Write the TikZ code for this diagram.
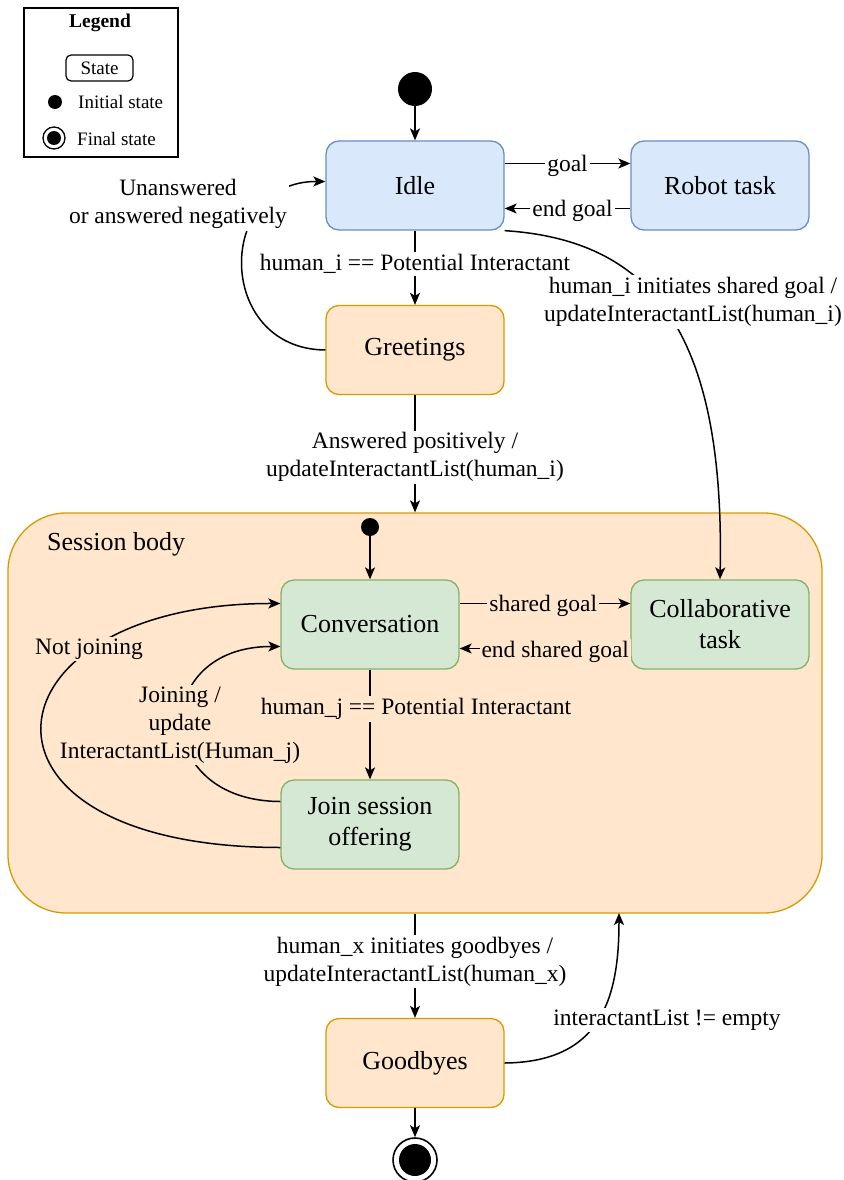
\documentclass[tikz,border=0pt]{standalone}
\usepackage{fontspec}
\setmainfont{Liberation Serif}
\usetikzlibrary{arrows.meta}
\definecolor{bluefill}{HTML}{DAE8FC}
\definecolor{blueline}{HTML}{6C8EBF}
\definecolor{orangefill}{HTML}{FFE6CC}
\definecolor{orangeline}{HTML}{D79B00}
\definecolor{greenfill}{HTML}{D5E8D4}
\definecolor{greenline}{HTML}{82B366}
\begin{document}
\begin{tikzpicture}[x=1pt,y=-1pt]
\tikzstyle{every node}+=[inner sep=0pt]
\tikzstyle{state}=[draw, rounded corners=13pt, line width=1.3pt, minimum width=178pt, minimum height=89pt, align=center, font=\fontsize{26}{31}\selectfont]
\tikzstyle{idlestate}=[state, draw=blueline, fill=bluefill]
\tikzstyle{talkstate}=[state, draw=orangeline, fill=orangefill]
\tikzstyle{sessstate}=[state, draw=greenline, fill=greenfill]
\tikzstyle{edge}=[line width=1.5pt, -{Stealth[length=12pt,width=10pt,inset=3pt]}]
\tikzstyle{lbl}=[align=center, inner sep=2pt, font=\fontsize{23.5}{28}\selectfont]
\tikzstyle{legtext}=[font=\fontsize{19}{23}\selectfont]
\useasboundingbox (0,0) rectangle (843,1180);
\node [draw, line width=1.2pt, minimum width=154pt, minimum height=149pt] (legend) at (101,82.5) {};
\node [font=\bfseries\fontsize{19.5}{23}\selectfont] (legtitle) at (100,23) {Legend};
\node [legtext, draw, rounded corners=5pt, line width=1.2pt, minimum width=67pt, minimum height=26pt] (legstate) at (99.5,68) {State};
\node [circle, fill=black, minimum size=14pt] (leginit) at (55,102) {};
\node [legtext, anchor=west] (leginittxt) at (78,102) {Initial state};
\node [circle, draw, line width=1.3pt, minimum size=22pt] (legfin) at (54,138) {};
\fill (legfin.center) circle (7pt);
\node [legtext, anchor=west] (legfintxt) at (77,139) {Final state};
\node [circle, fill=black, minimum size=34pt] (init) at (415,89) {};
\node [idlestate] (idle) at (415,185.5) {Idle};
\node [idlestate] (robot) at (720,185.5) {Robot task};
\node [talkstate] (greet) at (415,350) {Greetings};
\node [draw=orangeline, fill=orangefill, rounded corners=58pt, line width=1.3pt, minimum width=814pt, minimum height=400pt] (session) at (415,713) {};
\node [anchor=west, font=\fontsize{26}{31}\selectfont] (sesslbl) at (47,544) {Session body};
\node [circle, fill=black, minimum size=18pt] (sinit) at (370,527) {};
\node [sessstate] (conv) at (370,624.5) {Conversation};
\node [sessstate] (collab) at (720,624.5) {Collaborative\\task};
\node [sessstate] (join) at (370,824.5) {Join session\\offering};
\node [talkstate] (bye) at (415,1063) {Goodbyes};
\node [circle, draw, line width=1.6pt, minimum size=44pt, fill=white] (fin) at (415,1160) {};
\fill (fin.center) circle (16pt);
\coordinate (sbot) at (619,913);
\draw [edge] (init) -- (idle);
\draw [edge] ([yshift=22pt]idle.east) -- ([yshift=22pt]robot.west) node [lbl, midway, fill=white, yshift=-2pt] (goal) {goal};
\draw [edge] ([yshift=-23pt]robot.west) -- ([yshift=-23pt]idle.east) node [lbl, pos=0.46, fill=white, yshift=-2pt] (endgoal) {end goal};
\draw [edge] (idle) -- (greet) node [lbl, pos=0.45, fill=white] (potint) {human\_i == Potential Interactant};
\draw [edge] (greet.west) .. controls (215,349) and (215,181) .. ([yshift=4pt]idle.west);
\node [lbl, fill=white] (unans) at (178,204) {Unanswered\\or answered negatively};
\draw [edge] (idle.south east) .. controls (650,240) and (725,330) .. (collab.north);
\node [lbl, fill=white] (hinit) at (693,302) {human\_i initiates shared goal /\\updateInteractantList(human\_i)};
\draw [edge] (greet) -- (session) node [lbl, pos=0.53, fill=white] (answ) {Answered positively /\\updateInteractantList(human\_i)};
\draw [edge] (sinit) -- (conv);
\draw [edge] ([yshift=21pt]conv.east) -- ([yshift=21pt]collab.west) node [lbl, pos=0.49, fill=orangefill, yshift=-2pt] (sgoal) {shared goal};
\draw [edge] ([yshift=-24pt]collab.west) -- ([yshift=-24pt]conv.east) node [lbl, pos=0.44, fill=orangefill, yshift=-3pt] (endsgoal) {end shared goal};
\draw [edge] ([yshift=23pt]join.west) .. controls (150,801) and (150,646) .. ([yshift=-22pt]conv.west);
\node [lbl, fill=orangefill] (joining) at (180,725) {Joining /\\update\\InteractantList(Human\_j)};
\draw [edge] ([yshift=-23pt]join.west) .. controls (-55,847) and (-20,603) .. ([yshift=21pt]conv.west);
\node [lbl, fill=orangefill] (notjoin) at (89,649) {Not joining};
\draw [edge] (conv) -- (join) node [lbl, pos=0.36, xshift=46pt, fill=orangefill] (potintj) {human\_j == Potential Interactant};
\draw [edge] (session) -- (bye) node [lbl, pos=0.46, fill=white] (hbye) {human\_x initiates goodbyes /\\updateInteractantList(human\_x)};
\draw [edge] (bye.east) .. controls (600,1062) and (619,1000) .. (sbot);
\node [lbl, fill=white] (ilist) at (667,1020) {interactantList != empty};
\draw [edge] (bye) -- (fin);
\end{tikzpicture}
\end{document}
